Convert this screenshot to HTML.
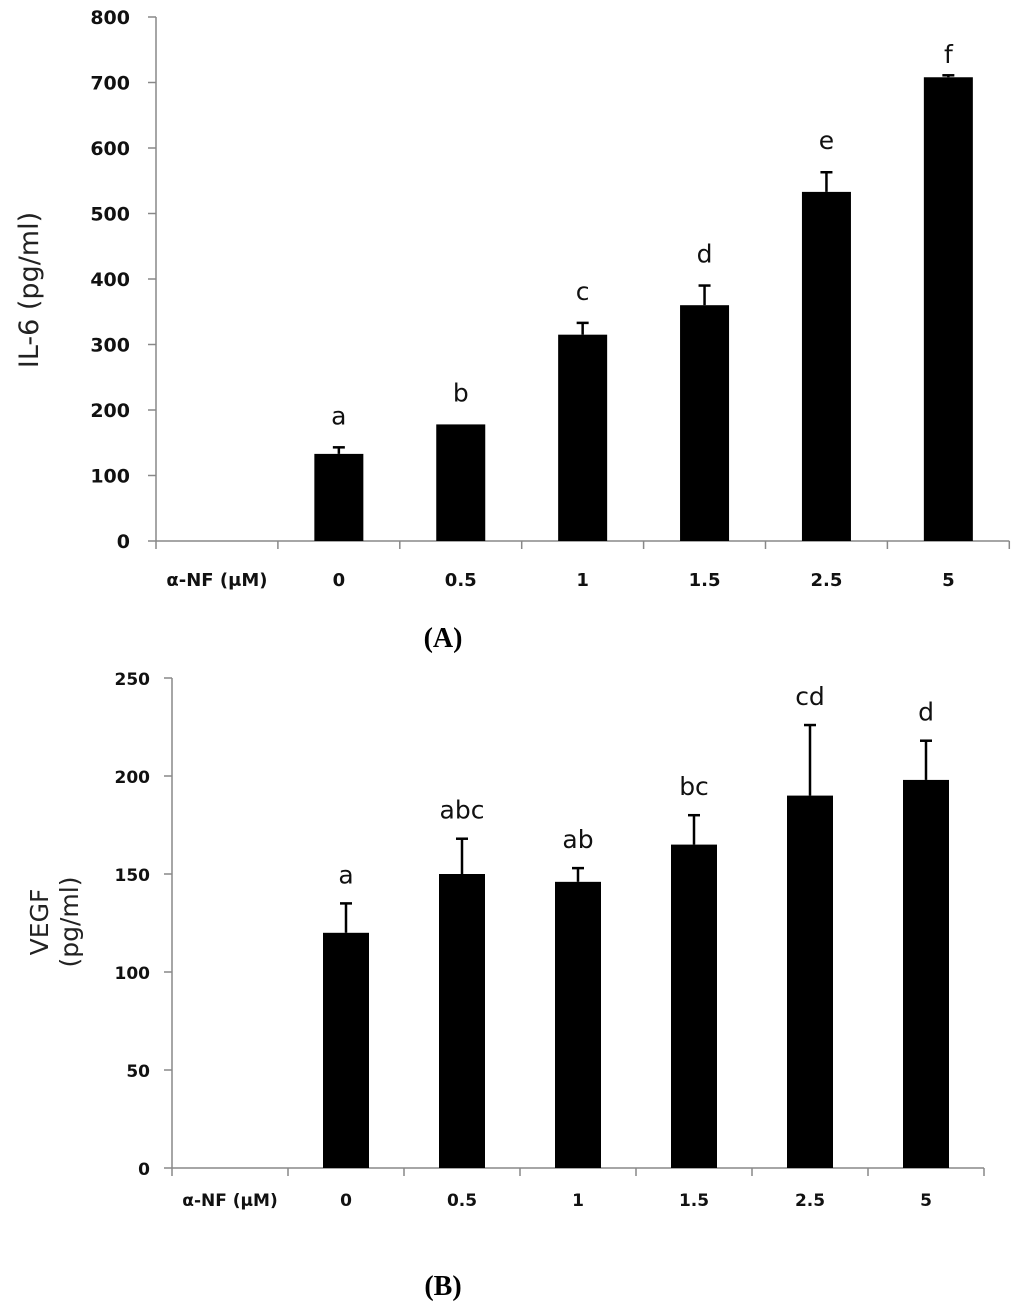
<!DOCTYPE html>
<html><head><meta charset="utf-8"><style>
body{margin:0;background:#fff;width:1024px;height:1310px;overflow:hidden}
svg text{font-family:"DejaVu Sans","Liberation Sans",sans-serif}
</style></head><body>
<svg id="s" width="1024" height="1310" xmlns="http://www.w3.org/2000/svg"></svg>
<script>
const categories=["0","0.5","1","1.5","2.5","5"];
const il6Values=[133,178,315,360,533,708];
const il6Errors=[10,0,18,30,30,3];
const il6Letters=["a","b","c","d","e","f"];
const il6Ticks=[0,100,200,300,400,500,600,700,800];
const vegfValues=[120,150,146,165,190,198];
const vegfErrors=[15,18,7,15,36,20];
const vegfLetters=["a","abc","ab","bc","cd","d"];
const vegfTicks=[0,50,100,150,200,250];
const NS="http://www.w3.org/2000/svg";
const svg=document.getElementById('s');
function mk(tag,attrs,parent,txt){const e=document.createElementNS(NS,tag);for(const k in attrs)e.setAttribute(k,attrs[k]);if(txt!==undefined)e.textContent=txt;(parent||svg).appendChild(e);return e;}
function chart(o){
  const g=mk('g',{});
  
  
  const y=v=>o.y0-(v/o.max)*(o.y0-o.yTop);
  const xc=i=>o.x0+o.slot*(i+1.5);
  const ax=mk('line',{x1:o.x0,y1:o.yTop,x2:o.x0,y2:o.y0,stroke:'#888','stroke-width':1.5},g);
  
  const bx=mk('line',{x1:o.x0,y1:o.y0,x2:o.x0+o.slot*7,y2:o.y0,stroke:'#888','stroke-width':1.5},g);
  
  o.ticks.forEach(t=>{
    mk('line',{x1:o.x0-8,y1:y(t),x2:o.x0,y2:y(t),stroke:'#888','stroke-width':1.5},g);
    const tl=mk('text',{x:o.x0-o.tickGap,y:y(t)+7,'text-anchor':'end','font-size':o.tickFs,'font-weight':'bold',fill:'#111'},g,t);
    
  });
  for(let i=0;i<=7;i++)mk('line',{x1:o.x0+o.slot*i,y1:o.y0,x2:o.x0+o.slot*i,y2:o.y0+8,stroke:'#888','stroke-width':1.5},g);
  const xl=mk('text',{x:o.x0+o.slot*0.5,y:o.y0+o.lblOff,'text-anchor':'middle','font-size':o.xFs,'font-weight':'bold',fill:'#111'},g,'α-NF (μM)');
  
  o.vals.forEach((v,i)=>{
    const c=xc(i);
    const b=mk('rect',{x:c-o.bw/2,y:y(v),width:o.bw,height:o.y0-y(v),fill:'#000'},g);
    
    const e=o.errs[i];
    if(e>0){mk('line',{x1:c,y1:y(v),x2:c,y2:y(v+e),stroke:'#000','stroke-width':2.5},g);
      mk('line',{x1:c-6,y1:y(v+e),x2:c+6,y2:y(v+e),stroke:'#000','stroke-width':2.5},g);}
    const ly=Math.max(y(v+e)-o.letGap,o.minLet);
    const l=mk('text',{x:c,y:ly,'text-anchor':'middle','font-size':25,fill:'#111'},g,o.letters[i]);
    
    const cl=mk('text',{x:c,y:o.y0+o.lblOff,'text-anchor':'middle','font-size':o.xFs,'font-weight':'bold',fill:'#111'},g,categories[i]);
    
  });
  return g;
}
chart({name:'il6-chart',x0:156,y0:541,yTop:17,max:800,slot:121.9,bw:49,ticks:il6Ticks,vals:il6Values,errs:il6Errors,letters:il6Letters,lblOff:45,tickFs:19,tickGap:26,xFs:18,letGap:23,minLet:63});
chart({name:'vegf-chart',x0:172,y0:1168,yTop:678,max:250,slot:116,bw:46,ticks:vegfTicks,vals:vegfValues,errs:vegfErrors,letters:vegfLetters,lblOff:38,tickFs:17,tickGap:22,xFs:17,letGap:20,minLet:0});
let t;
t=mk('text',{x:0,y:0,'font-size':27,fill:'#222',transform:'translate(38,290) rotate(-90)','text-anchor':'middle'},svg,'IL-6 (pg/ml)');

t=mk('text',{x:0,y:0,'font-size':25,fill:'#222',transform:'translate(48,922) rotate(-90)','text-anchor':'middle'},svg,'VEGF');

t=mk('text',{x:0,y:0,'font-size':25,fill:'#222',transform:'translate(78,922) rotate(-90)','text-anchor':'middle'},svg,'(pg/ml)');

t=mk('text',{x:443,y:647,'text-anchor':'middle','font-size':28,'font-weight':'bold',style:'font-family:"Liberation Serif",serif'},svg,'(A)');

t=mk('text',{x:443,y:1295,'text-anchor':'middle','font-size':28,'font-weight':'bold',style:'font-family:"Liberation Serif",serif'},svg,'(B)');

</script>
</body></html>
